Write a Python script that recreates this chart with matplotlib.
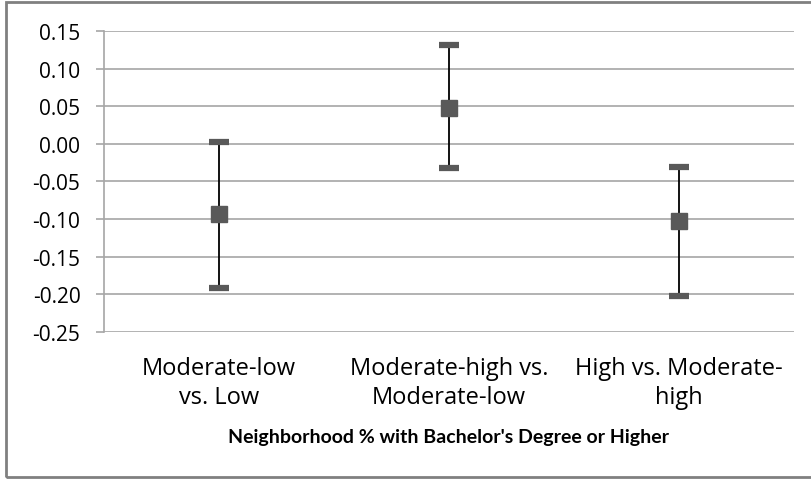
import matplotlib
matplotlib.use("Agg")
import matplotlib.pyplot as plt
from matplotlib.patches import Rectangle

# Data
categories = ["Moderate-low\nvs. Low", "Moderate-high vs.\nModerate-low", "High vs. Moderate-\nhigh"]
estimates = [-0.093, 0.048, -0.103]
upper = [0.003, 0.132, -0.031]
lower = [-0.191, -0.032, -0.202]
y_ticks = [0.15, 0.10, 0.05, 0.00, -0.05, -0.10, -0.15, -0.20, -0.25]
x_title = "Neighborhood % with Bachelor's Degree or Higher"

plt.rcParams['font.family'] = ['Open Sans', 'DejaVu Sans']

fig = plt.figure(figsize=(8.11, 4.81), dpi=100)
ax = fig.add_axes([0.128, 0.3077, 0.851, 0.6258])

xs = list(range(len(categories)))
grid_col = '#a6a6a6'
mark_col = '#595959'

# error bars: thin black line, thick grey caps
for x, m, lo, hi in zip(xs, estimates, lower, upper):
    ax.plot([x, x], [lo, hi], color='black', lw=1.3, zorder=3)
    ax.plot([x, x], [lo, hi], ls='none', marker='_', ms=14, mew=4.5,
            color=mark_col, zorder=4)
    ax.plot([x], [m], ls='none', marker='s', ms=11, color=mark_col, zorder=5)

ax.set_xlim(-0.5, len(categories) - 0.5)
ax.set_ylim(-0.25, 0.15)
ax.set_yticks(y_ticks)
ax.set_yticklabels([f"{v:.2f}" for v in y_ticks], fontsize=15, color='black')
ax.set_xticks(xs)
ax.set_xticklabels(categories, fontsize=17, linespacing=1.24)
ax.tick_params(axis='x', length=0, pad=17.5)
ax.tick_params(axis='y', length=5.8, color=grid_col, width=1.2, pad=11)

ax.grid(axis='y', color=grid_col, lw=1.2)
ax.set_axisbelow(True)
for side in ['top', 'right', 'bottom']:
    ax.spines[side].set_visible(False)
ax.spines['left'].set_color(grid_col)
ax.spines['left'].set_linewidth(1.2)

ax.set_xlabel(x_title, fontsize=14, fontweight='bold', family='Lato', labelpad=14)

# outer chart frame
fig.patches.append(Rectangle((6 / 811, 3 / 481), 1.0, 475 / 481,
                             transform=fig.transFigure, fill=False,
                             edgecolor='#808080', lw=2))

fig.savefig("out.png", dpi=100, facecolor='white')
